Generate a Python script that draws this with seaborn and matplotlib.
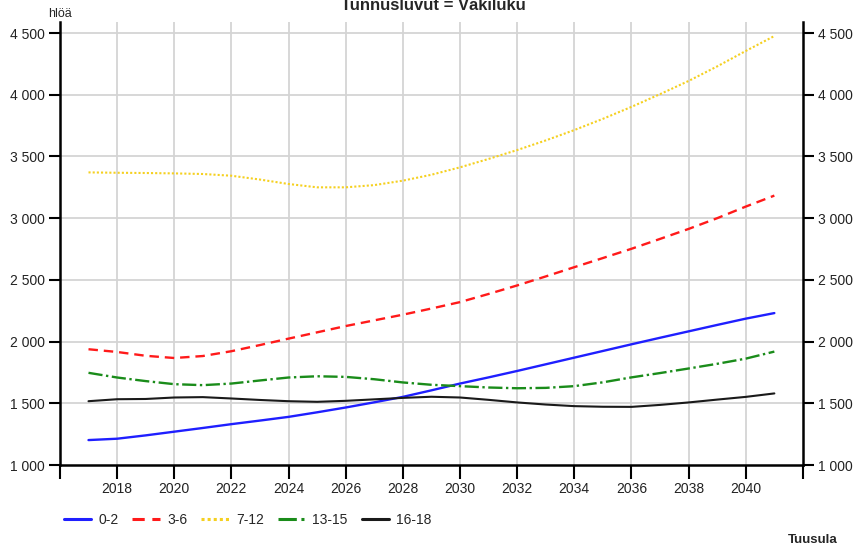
import numpy as np
import pandas as pd
import matplotlib
matplotlib.use("Agg")
import matplotlib.pyplot as plt
import seaborn as sns

# Väkiluku ikäryhmittäin, Tuusula (luettu kuvasta)
years = list(range(2017, 2042))
age_0_2 = [1202, 1213, 1240, 1270, 1300, 1331, 1360, 1390, 1427, 1466, 1508, 1552, 1605,
           1660, 1710, 1762, 1816, 1870, 1924, 1978, 2031, 2083, 2135, 2186, 2231]
age_3_6 = [1938, 1916, 1885, 1867, 1883, 1922, 1972, 2024, 2075, 2126, 2172, 2218, 2268,
           2320, 2386, 2455, 2528, 2603, 2677, 2752, 2832, 2913, 3000, 3094, 3183]
age_7_12 = [3371, 3368, 3366, 3363, 3358, 3344, 3313, 3277, 3250, 3250, 3268, 3304, 3352,
            3412, 3480, 3552, 3630, 3714, 3805, 3902, 4005, 4112, 4230, 4355, 4476]
age_13_15 = [1747, 1709, 1680, 1655, 1647, 1660, 1685, 1709, 1719, 1714, 1695, 1669, 1650,
             1639, 1628, 1622, 1625, 1639, 1670, 1710, 1745, 1782, 1820, 1862, 1919]
age_16_18 = [1517, 1533, 1535, 1547, 1550, 1539, 1527, 1517, 1512, 1520, 1532, 1544, 1553,
             1547, 1528, 1507, 1490, 1477, 1472, 1471, 1487, 1507, 1530, 1552, 1580]

labels = ["0-2", "3-6", "7-12", "13-15", "16-18"]
series = [age_0_2, age_3_6, age_7_12, age_13_15, age_16_18]
x_ticks = list(range(2016, 2043, 2))
x_labels = [str(y) if 2018 <= y <= 2040 else "" for y in x_ticks]
y_ticks = [1000, 1500, 2000, 2500, 3000, 3500, 4000, 4500]
y_labels = [f"{v:,}".replace(",", " ") for v in y_ticks]

sns.set_style("white")
plt.rcParams['font.family'] = ['Liberation Sans', 'DejaVu Sans']

styles = {
    "0-2": dict(color="#1f1fff", linestyle="-", linewidth=1.7),
    "3-6": dict(color="#ff1a1a", linestyle=(0, (4, 2.5)), linewidth=1.7),
    "7-12": dict(color="#f5d020", linestyle=(0, (1, 1)), linewidth=1.5),
    "13-15": dict(color="#1a8c1a", linestyle=(0, (6, 1.5, 1, 1.5)), linewidth=1.7),
    "16-18": dict(color="#1a1a1a", linestyle="-", linewidth=1.5),
}

fig = plt.figure(figsize=(8.56, 5.49), dpi=100)
ax = fig.add_axes([0.070, 0.153, 0.868, 0.807])

for lab, vals in zip(labels, series):
    df = pd.DataFrame({"vuosi": years, "hlöä": vals})
    sns.lineplot(data=df, x="vuosi", y="hlöä", ax=ax, label=lab, **styles[lab])

ax.set_xlim(2016, 2042)
ax.set_ylim(1000, 4590)
ax.set_xticks(x_ticks)
ax.set_xticklabels(x_labels)
ax.set_yticks(y_ticks)
ax.set_yticklabels(y_labels)
ax.set_xlabel("")
ax.set_ylabel("")

# ruudukko
for y in y_ticks[1:]:
    ax.axhline(y, color="#d4d4d4", linewidth=1.3, zorder=0)
for x in range(2018, 2041, 2):
    ax.axvline(x, color="#d4d4d4", linewidth=1.3, zorder=0)

for side in ["left", "bottom", "right"]:
    ax.spines[side].set_visible(True)
    ax.spines[side].set_color("black")
    ax.spines[side].set_linewidth(1.8)
ax.spines["top"].set_visible(False)

ax.tick_params(axis="both", direction="out", length=8, width=1.5, color="black",
               labelsize=10, labelcolor="#222222")
ax.tick_params(axis="y", left=True, right=True, labelleft=True, labelright=True, pad=3)
ax.tick_params(axis="x", bottom=True, length=10, pad=2)

leg = ax.legend(loc="upper left", bbox_to_anchor=(-0.012, -0.08), ncol=5, frameon=False,
                fontsize=10, handlelength=2.0, handletextpad=0.5, columnspacing=1.0)
for line in leg.get_lines():
    line.set_linewidth(2.2)

fig.text(0.506, 1 - 10.5 / 549, "Tunnusluvut = Väkiluku", ha="center", va="baseline",
         fontsize=12, fontweight="bold")
fig.text(60 / 856, 1 - 17 / 549, "hlöä", ha="center", va="baseline", fontsize=9)
fig.text(838 / 856, 1 - 543 / 549, "Tuusula", ha="right", va="baseline", fontsize=9.5,
         fontweight="bold")

fig.savefig("out.png", dpi=100)
